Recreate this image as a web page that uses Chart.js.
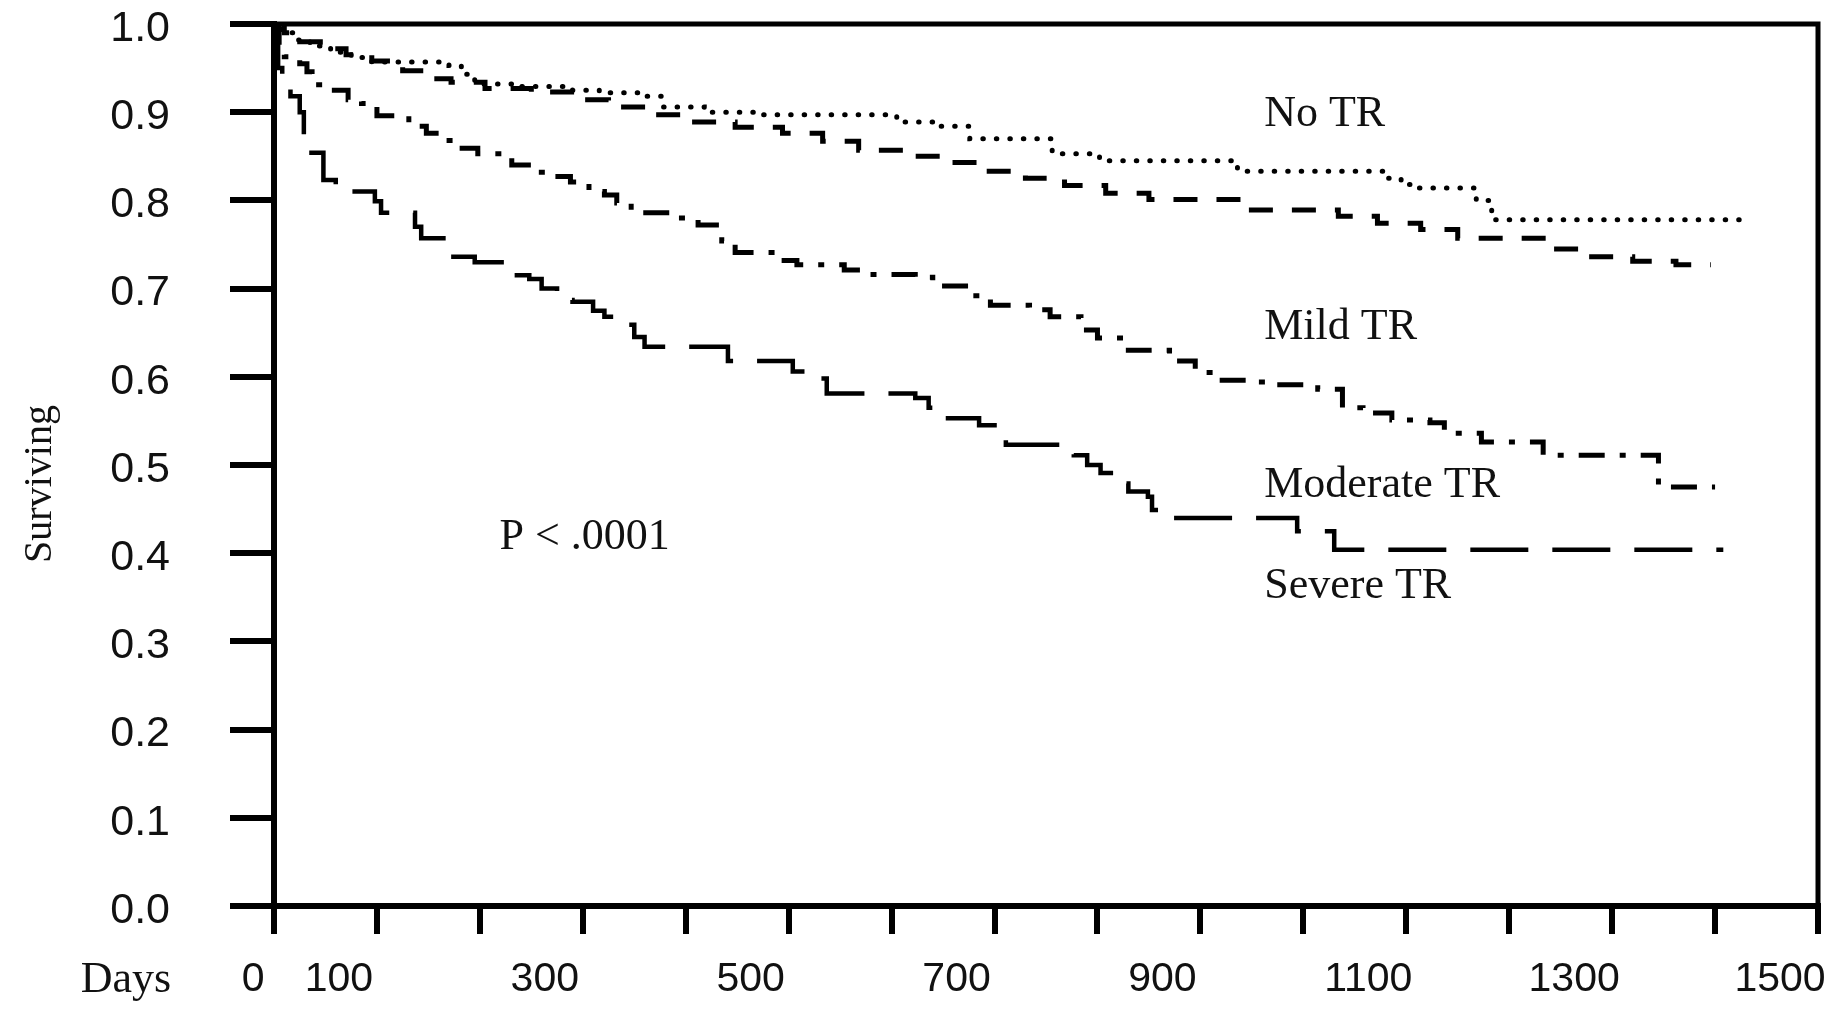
<!DOCTYPE html>
<html>
<head>
<meta charset="utf-8">
<title>Survival by TR grade</title>
<script src="https://cdn.jsdelivr.net/npm/chart.js@4.4.0/dist/chart.umd.min.js"></script>
<style>
    html, body { margin: 0; padding: 0; background: #fff; }
    #wrap { width: 1844px; height: 1010px; position: relative; }
</style>
</head>
<body>
<div id="wrap"><canvas id="kmChart"></canvas></div>
<script>
// Ticks of the axes
const yTicks = [0.0, 0.1, 0.2, 0.3, 0.4, 0.5, 0.6, 0.7, 0.8, 0.9, 1.0];
const xLabeled = [0, 100, 300, 500, 700, 900, 1100, 1300, 1500];

// No TR (dotted)
const noTrDays = [0, 8, 20, 35, 55, 75, 95, 170, 182, 195, 240, 290, 316, 360, 378, 418, 468, 605, 645, 676, 756, 802, 936, 1080, 1095, 1105, 1168, 1183, 1424];
const noTrSurv = [1.0, 0.99, 0.982, 0.975, 0.968, 0.962, 0.957, 0.953, 0.943, 0.932, 0.929, 0.925, 0.922, 0.918, 0.906, 0.9, 0.897, 0.889, 0.884, 0.87, 0.853, 0.845, 0.833, 0.825, 0.818, 0.814, 0.8, 0.778, 0.778];

// Mild TR (dashed)
const mildDays = [0, 10, 25, 45, 70, 95, 125, 150, 172, 205, 250, 295, 325, 362, 405, 448, 494, 533, 568, 612, 648, 692, 730, 768, 808, 850, 940, 1034, 1072, 1114, 1150, 1236, 1275, 1320, 1362, 1396];
const mildSurv = [1.0, 0.99, 0.98, 0.972, 0.965, 0.958, 0.947, 0.938, 0.934, 0.927, 0.923, 0.914, 0.906, 0.897, 0.889, 0.883, 0.876, 0.867, 0.857, 0.85, 0.843, 0.833, 0.825, 0.817, 0.808, 0.801, 0.789, 0.782, 0.774, 0.767, 0.757, 0.745, 0.736, 0.731, 0.727, 0.727];

// Moderate TR (dash-dot)
const modDays = [0, 5, 10, 25, 32, 37, 56, 72, 85, 100, 131, 148, 162, 179, 198, 231, 250, 270, 288, 306, 321, 333, 347, 393, 412, 435, 448, 489, 508, 554, 573, 623, 640, 675, 696, 734, 754, 784, 800, 830, 870, 895, 915, 946, 966, 1014, 1038, 1058, 1086, 1123, 1137, 1173, 1233, 1345, 1400];
const modSurv = [1.0, 0.975, 0.963, 0.955, 0.946, 0.931, 0.925, 0.914, 0.91, 0.896, 0.884, 0.876, 0.868, 0.859, 0.853, 0.84, 0.832, 0.827, 0.821, 0.81, 0.806, 0.797, 0.786, 0.78, 0.772, 0.754, 0.741, 0.732, 0.727, 0.721, 0.716, 0.713, 0.703, 0.692, 0.681, 0.676, 0.668, 0.653, 0.644, 0.63, 0.618, 0.605, 0.596, 0.594, 0.591, 0.586, 0.565, 0.559, 0.551, 0.548, 0.536, 0.526, 0.511, 0.475, 0.475];

// Severe TR (long dash)
const sevDays = [0, 4, 8, 16, 25, 29, 34, 48, 60, 98, 104, 137, 143, 168, 195, 229, 248, 260, 275, 290, 310, 321, 336, 350, 360, 441, 504, 520, 537, 623, 636, 650, 685, 700, 711, 777, 790, 803, 813, 830, 849, 853, 870, 994, 1030, 1408];
const sevSurv = [1.0, 0.95, 0.94, 0.918, 0.9, 0.87, 0.854, 0.823, 0.81, 0.799, 0.786, 0.77, 0.757, 0.736, 0.73, 0.715, 0.711, 0.7, 0.687, 0.685, 0.675, 0.668, 0.659, 0.645, 0.634, 0.618, 0.606, 0.598, 0.581, 0.576, 0.565, 0.553, 0.545, 0.532, 0.523, 0.511, 0.5, 0.491, 0.479, 0.47, 0.464, 0.449, 0.44, 0.425, 0.404, 0.404];

function toPoints(days, surv) {
    return days.map((d, i) => ({ x: d, y: surv[i] }));
}

// Text written inside the plot, placed in data units
const curveLabels = [
    { text: 'No TR', x: 962, y: 0.898 },
    { text: 'Mild TR', x: 962, y: 0.656 },
    { text: 'Moderate TR', x: 962, y: 0.477 },
    { text: 'Severe TR', x: 962, y: 0.362 },
    { text: 'P < .0001', x: 219, y: 0.418 }
];

const serifFont = '"Liberation Serif", "DejaVu Serif", serif';
const sansFont = '"Liberation Sans", Arial, sans-serif';

// Frame on top and right plus the free texts
const framePlugin = {
    id: 'frameAndText',
    afterDraw(chart) {
        const ctx = chart.ctx;
        const area = chart.chartArea;
        const xs = chart.scales.x;
        const ys = chart.scales.y;

        ctx.save();
        ctx.strokeStyle = '#000';
        ctx.lineWidth = 5;
        ctx.beginPath();
        ctx.moveTo(area.left, area.top);
        ctx.lineTo(area.right, area.top);
        ctx.lineTo(area.right, area.bottom);
        ctx.stroke();

        ctx.fillStyle = '#111';
        ctx.font = '44px ' + serifFont;
        ctx.textAlign = 'left';
        ctx.textBaseline = 'middle';
        curveLabels.forEach(l => {
            ctx.fillText(l.text, xs.getPixelForValue(l.x), ys.getPixelForValue(l.y));
        });

        // "Days" sits left of the x tick labels
        ctx.textAlign = 'center';
        ctx.fillText('Days', 126, 980);

        // Axis title on the left
        ctx.font = '40px ' + serifFont;
        ctx.translate(40, 484);
        ctx.rotate(-Math.PI / 2);
        ctx.fillText('Surviving', 0, 0);
        ctx.restore();
    }
};

const lineCommon = {
    borderColor: '#000',
    pointRadius: 0,
    fill: false,
    stepped: true,
    tension: 0
};

const ctx = document.getElementById('kmChart').getContext('2d');
const kmChart = new Chart(ctx, {
    type: 'line',
    data: {
        datasets: [
            Object.assign({ label: 'No TR', data: toPoints(noTrDays, noTrSurv), borderWidth: 5, borderDash: [0.5, 13], borderCapStyle: 'round' }, lineCommon),
            Object.assign({ label: 'Mild TR', data: toPoints(mildDays, mildSurv), borderWidth: 5, borderDash: [24, 19], borderCapStyle: 'butt' }, lineCommon),
            Object.assign({ label: 'Moderate TR', data: toPoints(modDays, modSurv), borderWidth: 5, borderDash: [26, 15, 6, 15], borderCapStyle: 'butt' }, lineCommon),
            Object.assign({ label: 'Severe TR', data: toPoints(sevDays, sevSurv), borderWidth: 4.5, borderDash: [58, 24], borderCapStyle: 'butt' }, lineCommon)
        ]
    },
    options: {
        responsive: true,
        maintainAspectRatio: false,
        animation: false,
        layout: { padding: { left: 0, right: 26, top: 24, bottom: 0 } },
        plugins: {
            legend: { display: false },
            tooltip: { enabled: false }
        },
        scales: {
            x: {
                type: 'linear',
                min: 0,
                max: 1500,
                afterBuildTicks(scale) {
                    const t = [];
                    for (let v = 0; v <= 1500; v += 100) t.push({ value: v });
                    scale.ticks = t;
                },
                afterFit(scale) {
                    scale.height = 104;
                    scale.paddingLeft = 0;
                    scale.paddingRight = 0;
                },
                border: { display: true, color: '#000', width: 6 },
                grid: { drawOnChartArea: false, drawTicks: true, tickLength: 28, lineWidth: 6, color: '#000' },
                ticks: {
                    autoSkip: false,
                    maxRotation: 0,
                    padding: 21,
                    labelOffset: -38,
                    color: '#111',
                    font: { family: sansFont, size: 41 },
                    // the 0 sits closer to its tick than the other labels
                    callback: v => v === 0 ? '   0' : (xLabeled.includes(v) ? String(v) : '')
                }
            },
            y: {
                min: 0,
                max: 1,
                afterBuildTicks(scale) {
                    scale.ticks = yTicks.map(v => ({ value: v }));
                },
                afterFit(scale) {
                    scale.width = 274;
                    scale.paddingTop = 0;
                    scale.paddingBottom = 0;
                },
                border: { display: true, color: '#000', width: 6 },
                grid: { drawOnChartArea: false, drawTicks: true, tickLength: 44, lineWidth: 6, color: '#000' },
                ticks: {
                    padding: 60,
                    labelOffset: 5,
                    color: '#111',
                    font: { family: sansFont, size: 43 },
                    callback: v => v.toFixed(1)
                }
            }
        }
    },
    plugins: [framePlugin]
});
</script>
</body>
</html>
